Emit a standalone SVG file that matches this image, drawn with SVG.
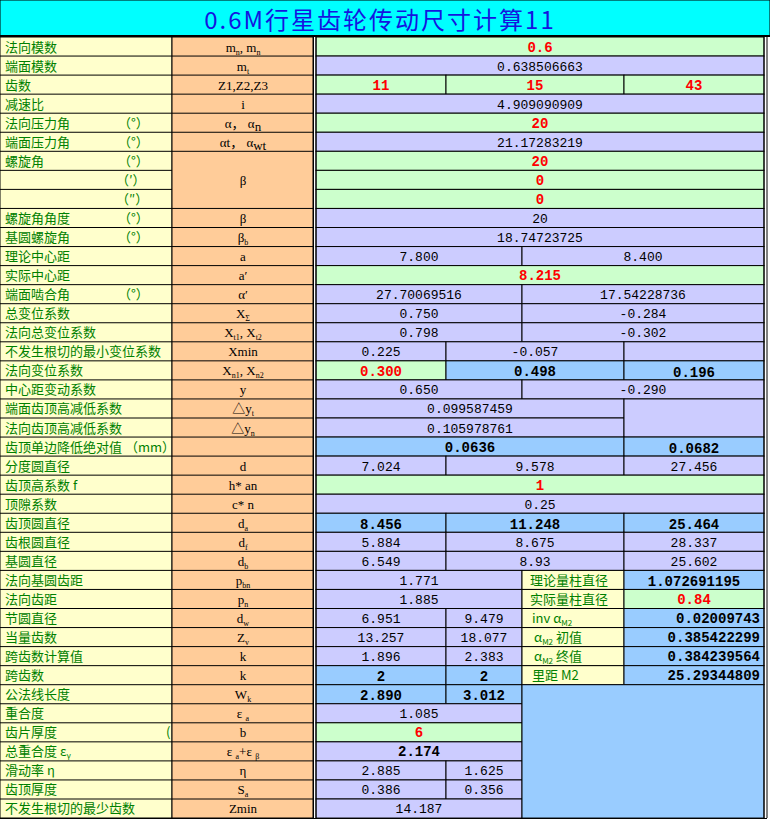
<svg xmlns="http://www.w3.org/2000/svg" width="770" height="819" viewBox="0 0 770 819">
<style>
rect{stroke:#000;stroke-width:1}
.Y{fill:#FFFFCC}.O{fill:#FFCC99}.G{fill:#CCFFCC}.L{fill:#CCCCFF}.B{fill:#99CCFF}
text{font-family:"Liberation Mono","Noto Sans CJK SC",monospace;font-size:13px}
.lb text{font-family:"Noto Sans CJK SC",sans-serif;fill:#008000;font-size:13px}
.sy text{font-family:"Liberation Serif","Noto Sans CJK SC",serif;font-size:13px;text-anchor:middle}
.v{text-anchor:middle;fill:#000}
.r{text-anchor:middle;fill:#FF0000;font-weight:bold;font-size:14px}
.b{text-anchor:middle;font-weight:bold;font-size:14px}
.br{text-anchor:end;font-weight:bold;font-size:14px}
.s{font-size:8px}
</style>
<rect x="0" y="0" width="770" height="36" fill="#00FFFF" stroke="none"/>
<text x="380" y="29" text-anchor="middle" style="font-family:'Noto Sans CJK SC',sans-serif;font-size:24px;fill:#1515E0;letter-spacing:2px">0.6M行星齿轮传动尺寸计算11</text>
<line x1="0" y1="36" x2="770" y2="36" stroke="#000" stroke-width="2"/>
<g id="colA">
<rect class="Y" x="0" y="37" width="172" height="781"/>
<g class="lb">
<text x="5" y="52">法向模数</text><text x="5" y="71">端面模数</text><text x="5" y="90">齿数</text><text x="5" y="109">减速比</text>
<text x="5" y="128">法向压力角</text><text x="118" y="128">（°）</text>
<text x="5" y="147">端面压力角</text><text x="118" y="147">（°）</text>
<text x="5" y="166">螺旋角</text><text x="118" y="166">（°）</text>
<text x="116" y="185">（′）</text><text x="116" y="204">（″）</text>
<text x="5" y="223">螺旋角角度</text><text x="118" y="223">（°）</text>
<text x="5" y="242">基圆螺旋角</text><text x="118" y="242">（°）</text>
<text x="5" y="261">理论中心距</text><text x="5" y="280">实际中心距</text>
<text x="5" y="299">端面啮合角</text><text x="118" y="299">（°）</text>
<text x="5" y="318">总变位系数</text><text x="5" y="337">法向总变位系数</text><text x="5" y="356">不发生根切的最小变位系数</text>
<text x="5" y="375">法向变位系数</text><text x="5" y="394">中心距变动系数</text><text x="5" y="413">端面齿顶高减低系数</text>
<text x="5" y="433">法向齿顶高减低系数</text><text x="5" y="452">齿顶单边降低绝对值 （mm）</text>
<text x="5" y="471">分度圆直径</text><text x="5" y="490">齿顶高系数 f</text><text x="5" y="509">顶隙系数</text>
<text x="5" y="528">齿顶圆直径</text><text x="5" y="547">齿根圆直径</text><text x="5" y="566">基圆直径</text>
<text x="5" y="585">法向基圆齿距</text><text x="5" y="604">法向齿距</text><text x="5" y="623">节圆直径</text>
<text x="5" y="642">当量齿数</text><text x="5" y="661">跨齿数计算值</text><text x="5" y="680">跨齿数</text>
<text x="5" y="699">公法线长度</text><text x="5" y="718">重合度</text><text x="5" y="737">齿片厚度</text><text x="166" y="737">(</text>
<text x="5" y="756">总重合度 ε<tspan class="s" dy="3">γ</tspan></text><text x="5" y="775">滑动率    η</text>
<text x="5" y="794">齿顶厚度</text><text x="5" y="813">不发生根切的最少齿数</text>
</g>
<g stroke="#000">
<path d="M0 56.05H172M0 75.1H172M0 94.15H172M0 113.2H172M0 132.25H172M0 151.3H172M0 170.35H172M0 189.4H172M0 208.45H172M0 227.5H172M0 246.55H172M0 265.6H172M0 284.65H172M0 303.7H172M0 322.75H172M0 341.8H172M0 360.85H172M0 379.9H172M0 398.95H172M0 418H172M0 437.05H172M0 456.1H172M0 475.15H172M0 494.2H172M0 513.25H172M0 532.3H172M0 551.35H172M0 570.4H172M0 589.45H172M0 608.5H172M0 627.55H172M0 646.6H172M0 665.65H172M0 684.7H172M0 703.75H172M0 722.8H172M0 741.85H172M0 760.9H172M0 779.95H172M0 799H172"/>
</g>
</g>
<g id="colB">
<rect class="O" x="172" y="37" width="141" height="781"/>
<path stroke="#000" d="M172 56.05H313M172 75.1H313M172 94.15H313M172 113.2H313M172 132.25H313M172 151.3H313M172 208.45H313M172 227.5H313M172 246.55H313M172 265.6H313M172 284.65H313M172 303.7H313M172 322.75H313M172 341.8H313M172 360.85H313M172 379.9H313M172 398.95H313M172 418H313M172 437.05H313M172 456.1H313M172 475.15H313M172 494.2H313M172 513.25H313M172 532.3H313M172 551.35H313M172 570.4H313M172 589.45H313M172 608.5H313M172 627.55H313M172 646.6H313M172 665.65H313M172 684.7H313M172 703.75H313M172 722.8H313M172 741.85H313M172 760.9H313M172 779.95H313M172 799H313"/>
<g class="sy">
<text x="243" y="52">m<tspan class="s" dy="3">n</tspan><tspan dy="-3">, m</tspan><tspan class="s" dy="3">n</tspan></text>
<text x="243" y="71">m<tspan class="s" dy="3">t</tspan></text>
<text x="243" y="90">Z1,Z2,Z3</text><text x="243" y="109">i</text>
<text x="243" y="128">α， α<tspan dy="3">n</tspan></text>
<text x="243" y="147">αt， α<tspan dy="3">wt</tspan></text>
<text x="243" y="185">β</text><text x="243" y="223">β</text>
<text x="243" y="242">β<tspan class="s" dy="3">b</tspan></text>
<text x="243" y="261">a</text><text x="243" y="280">a′</text><text x="243" y="299">α′</text>
<text x="243" y="318">X<tspan class="s" dy="3">Σ</tspan></text>
<text x="243" y="337">X<tspan class="s" dy="3">t1</tspan><tspan dy="-3">, X</tspan><tspan class="s" dy="3">t2</tspan></text>
<text x="243" y="356">Xmin</text>
<text x="243" y="375">X<tspan class="s" dy="3">n1</tspan><tspan dy="-3">, X</tspan><tspan class="s" dy="3">n2</tspan></text>
<text x="243" y="394">y</text>
<text x="243" y="413">△y<tspan class="s" dy="3">t</tspan></text>
<text x="243" y="433">△y<tspan class="s" dy="3">n</tspan></text>
<text x="243" y="471">d</text><text x="243" y="490">h* an</text><text x="243" y="509">c* n</text>
<text x="243" y="528">d<tspan class="s" dy="3">a</tspan></text><text x="243" y="547">d<tspan class="s" dy="3">f</tspan></text><text x="243" y="566">d<tspan class="s" dy="3">b</tspan></text>
<text x="243" y="585">p<tspan class="s" dy="3">bn</tspan></text><text x="243" y="604">p<tspan class="s" dy="3">n</tspan></text>
<text x="243" y="623">d<tspan class="s" dy="3">w</tspan></text><text x="243" y="642">Z<tspan class="s" dy="3">v</tspan></text>
<text x="243" y="661">k</text><text x="243" y="680">k</text><text x="243" y="699">W<tspan class="s" dy="3">k</tspan></text>
<text x="243" y="718">ε <tspan class="s" dy="3">a</tspan></text><text x="243" y="737">b</text>
<text x="243" y="756">ε <tspan class="s" dy="3">a</tspan><tspan dy="-3">+ε </tspan><tspan class="s" dy="3">β</tspan></text>
<text x="243" y="775">η</text><text x="243" y="794">S<tspan class="s" dy="3">a</tspan></text><text x="243" y="813">Zmin</text>
</g>
</g>
<g id="data">
<rect class="G" x="316" y="37" width="448" height="19.05"/><text class="r" x="540" y="52">0.6</text>
<rect class="L" x="316" y="56.05" width="448" height="19.05"/><text class="v" x="540" y="71">0.638506663</text>
<rect class="G" x="316" y="75.1" width="130" height="19.05"/><rect class="G" x="446" y="75.1" width="178" height="19.05"/><rect class="G" x="624" y="75.1" width="140" height="19.05"/>
<text class="r" x="381" y="90">11</text><text class="r" x="535" y="90">15</text><text class="r" x="694" y="90">43</text>
<rect class="L" x="316" y="94.15" width="448" height="19.05"/><text class="v" x="540" y="109">4.909090909</text>
<rect class="G" x="316" y="113.2" width="448" height="19.05"/><text class="r" x="540" y="128">20</text>
<rect class="L" x="316" y="132.25" width="448" height="19.05"/><text class="v" x="540" y="147">21.17283219</text>
<rect class="G" x="316" y="151.3" width="448" height="19.05"/><text class="r" x="540" y="166">20</text>
<rect class="G" x="316" y="170.35" width="448" height="19.05"/><text class="r" x="540" y="185">0</text>
<rect class="G" x="316" y="189.4" width="448" height="19.05"/><text class="r" x="540" y="204">0</text>
<rect class="L" x="316" y="208.45" width="448" height="19.05"/><text class="v" x="540" y="223">20</text>
<rect class="L" x="316" y="227.5" width="448" height="19.05"/><text class="v" x="540" y="242">18.74723725</text>
<rect class="L" x="316" y="246.55" width="206" height="19.05"/><rect class="L" x="522" y="246.55" width="242" height="19.05"/><text class="v" x="419" y="261">7.800</text><text class="v" x="643" y="261">8.400</text>
<rect class="G" x="316" y="265.6" width="448" height="19.05"/><text class="r" x="540" y="280">8.215</text>
<rect class="L" x="316" y="284.65" width="206" height="19.05"/><rect class="L" x="522" y="284.65" width="242" height="19.05"/><text class="v" x="419" y="299">27.70069516</text><text class="v" x="643" y="299">17.54228736</text>
<rect class="L" x="316" y="303.7" width="206" height="19.05"/><rect class="L" x="522" y="303.7" width="242" height="19.05"/><text class="v" x="419" y="318">0.750</text><text class="v" x="643" y="318">-0.284</text>
<rect class="L" x="316" y="322.75" width="206" height="19.05"/><rect class="L" x="522" y="322.75" width="242" height="19.05"/><text class="v" x="419" y="337">0.798</text><text class="v" x="643" y="337">-0.302</text>
<rect class="L" x="316" y="341.8" width="130" height="19.05"/><rect class="L" x="446" y="341.8" width="178" height="19.05"/><rect class="L" x="624" y="341.8" width="140" height="19.05"/>
<text class="v" x="381" y="356">0.225</text><text class="v" x="535" y="356">-0.057</text>
<rect class="G" x="316" y="360.85" width="130" height="19.05"/><rect class="B" x="446" y="360.85" width="178" height="19.05"/><rect class="B" x="624" y="360.85" width="140" height="19.05"/>
<text class="r" x="381" y="376">0.300</text><text class="b" x="535" y="376">0.498</text><text class="b" x="694" y="377">0.196</text>
<rect class="L" x="316" y="379.9" width="206" height="19.05"/><rect class="L" x="522" y="379.9" width="242" height="19.05"/><text class="v" x="419" y="394">0.650</text><text class="v" x="643" y="394">-0.290</text>
<rect class="L" x="316" y="398.95" width="308" height="19.05"/><rect class="L" x="316" y="418" width="308" height="19.05"/><rect class="L" x="624" y="398.95" width="140" height="38.1"/>
<text class="v" x="470" y="413">0.099587459</text><text class="v" x="470" y="433">0.105978761</text>
<rect class="B" x="316" y="437.05" width="308" height="19.05"/><rect class="B" x="624" y="437.05" width="140" height="19.05"/>
<text class="b" x="470" y="452">0.0636</text><text class="b" x="694" y="453">0.0682</text>
<rect class="L" x="316" y="456.1" width="130" height="19.05"/><rect class="L" x="446" y="456.1" width="178" height="19.05"/><rect class="L" x="624" y="456.1" width="140" height="19.05"/>
<text class="v" x="381" y="471">7.024</text><text class="v" x="535" y="471">9.578</text><text class="v" x="694" y="471">27.456</text>
<rect class="G" x="316" y="475.15" width="448" height="19.05"/><text class="r" x="540" y="490">1</text>
<rect class="L" x="316" y="494.2" width="448" height="19.05"/><text class="v" x="540" y="509">0.25</text>
<rect class="B" x="316" y="513.25" width="130" height="19.05"/><rect class="B" x="446" y="513.25" width="178" height="19.05"/><rect class="B" x="624" y="513.25" width="140" height="19.05"/>
<text class="b" x="381" y="529">8.456</text><text class="b" x="535" y="529">11.248</text><text class="b" x="694" y="529">25.464</text>
<rect class="L" x="316" y="532.3" width="130" height="19.05"/><rect class="L" x="446" y="532.3" width="178" height="19.05"/><rect class="L" x="624" y="532.3" width="140" height="19.05"/>
<text class="v" x="381" y="547">5.884</text><text class="v" x="535" y="547">8.675</text><text class="v" x="694" y="547">28.337</text>
<rect class="L" x="316" y="551.35" width="130" height="19.05"/><rect class="L" x="446" y="551.35" width="178" height="19.05"/><rect class="L" x="624" y="551.35" width="140" height="19.05"/>
<text class="v" x="381" y="566">6.549</text><text class="v" x="535" y="566">8.93</text><text class="v" x="694" y="566">25.602</text>
<rect class="L" x="316" y="570.4" width="206" height="19.05"/><text class="v" x="419" y="585">1.771</text>
<rect class="L" x="316" y="589.45" width="206" height="19.05"/><text class="v" x="419" y="604">1.885</text>
<rect class="L" x="316" y="608.5" width="130" height="19.05"/><rect class="L" x="446" y="608.5" width="76" height="19.05"/><text class="v" x="381" y="623">6.951</text><text class="v" x="484" y="623">9.479</text>
<rect class="L" x="316" y="627.55" width="130" height="19.05"/><rect class="L" x="446" y="627.55" width="76" height="19.05"/><text class="v" x="381" y="642">13.257</text><text class="v" x="484" y="642">18.077</text>
<rect class="L" x="316" y="646.6" width="130" height="19.05"/><rect class="L" x="446" y="646.6" width="76" height="19.05"/><text class="v" x="381" y="661">1.896</text><text class="v" x="484" y="661">2.383</text>
<rect class="B" x="316" y="665.65" width="130" height="19.05"/><rect class="B" x="446" y="665.65" width="76" height="19.05"/><text class="b" x="381" y="681">2</text><text class="b" x="484" y="681">2</text>
<rect class="B" x="316" y="684.7" width="130" height="19.05"/><rect class="B" x="446" y="684.7" width="76" height="19.05"/><text class="b" x="381" y="700">2.890</text><text class="b" x="484" y="700">3.012</text>
<rect class="L" x="316" y="703.75" width="206" height="19.05"/><text class="v" x="419" y="718">1.085</text>
<rect class="G" x="316" y="722.8" width="206" height="19.05"/><text class="r" x="419" y="737">6</text>
<rect class="L" x="316" y="741.85" width="206" height="19.05"/><text class="b" x="419" y="756">2.174</text>
<rect class="L" x="316" y="760.9" width="130" height="19.05"/><rect class="L" x="446" y="760.9" width="76" height="19.05"/><text class="v" x="381" y="775">2.885</text><text class="v" x="484" y="775">1.625</text>
<rect class="L" x="316" y="779.95" width="130" height="19.05"/><rect class="L" x="446" y="779.95" width="76" height="19.05"/><text class="v" x="381" y="794">0.386</text><text class="v" x="484" y="794">0.356</text>
<rect class="L" x="316" y="799" width="206" height="19.05"/><text class="v" x="419" y="813">14.187</text>
</g>
<g id="measure">
<rect class="Y" x="522" y="570.4" width="102" height="19.05"/><rect class="B" x="624" y="570.4" width="140" height="19.05"/>
<rect class="Y" x="522" y="589.45" width="102" height="19.05"/><rect class="G" x="624" y="589.45" width="140" height="19.05"/>
<rect class="Y" x="522" y="608.5" width="102" height="19.05"/><rect class="B" x="624" y="608.5" width="140" height="19.05"/>
<rect class="Y" x="522" y="627.55" width="102" height="19.05"/><rect class="B" x="624" y="627.55" width="140" height="19.05"/>
<rect class="Y" x="522" y="646.6" width="102" height="19.05"/><rect class="B" x="624" y="646.6" width="140" height="19.05"/>
<rect class="Y" x="522" y="665.65" width="102" height="19.05"/><rect class="B" x="624" y="665.65" width="140" height="19.05"/>
<rect class="B" x="522" y="684.7" width="242" height="133.35"/>
<g class="lb">
<text x="530" y="585">理论量柱直径</text><text x="530" y="604">实际量柱直径</text>
<text x="532" y="623">inv  α<tspan class="s" dy="3">M2</tspan></text>
<text x="534" y="642">α<tspan class="s" dy="3">M2</tspan><tspan dy="-3"> 初值</tspan></text>
<text x="534" y="661">α<tspan class="s" dy="3">M2</tspan><tspan dy="-3"> 终值</tspan></text>
<text x="532" y="680">里距    M2</text>
</g>
<text class="b" x="694" y="586">1.072691195</text><text class="r" x="694" y="604">0.84</text>
<text class="br" x="760" y="623">0.02009743</text><text class="br" x="760" y="642">0.385422299</text>
<text class="br" x="760" y="661">0.384239564</text><text class="br" x="760" y="680">25.29344809</text>
</g>
<g id="borders" fill="none" stroke="#000">
<path d="M313.5 37V818M316 37V818" stroke-width="1"/>
<path d="M764 37V818M767 37V818M0 818.5H767" stroke-width="1"/>
</g>
</svg>
